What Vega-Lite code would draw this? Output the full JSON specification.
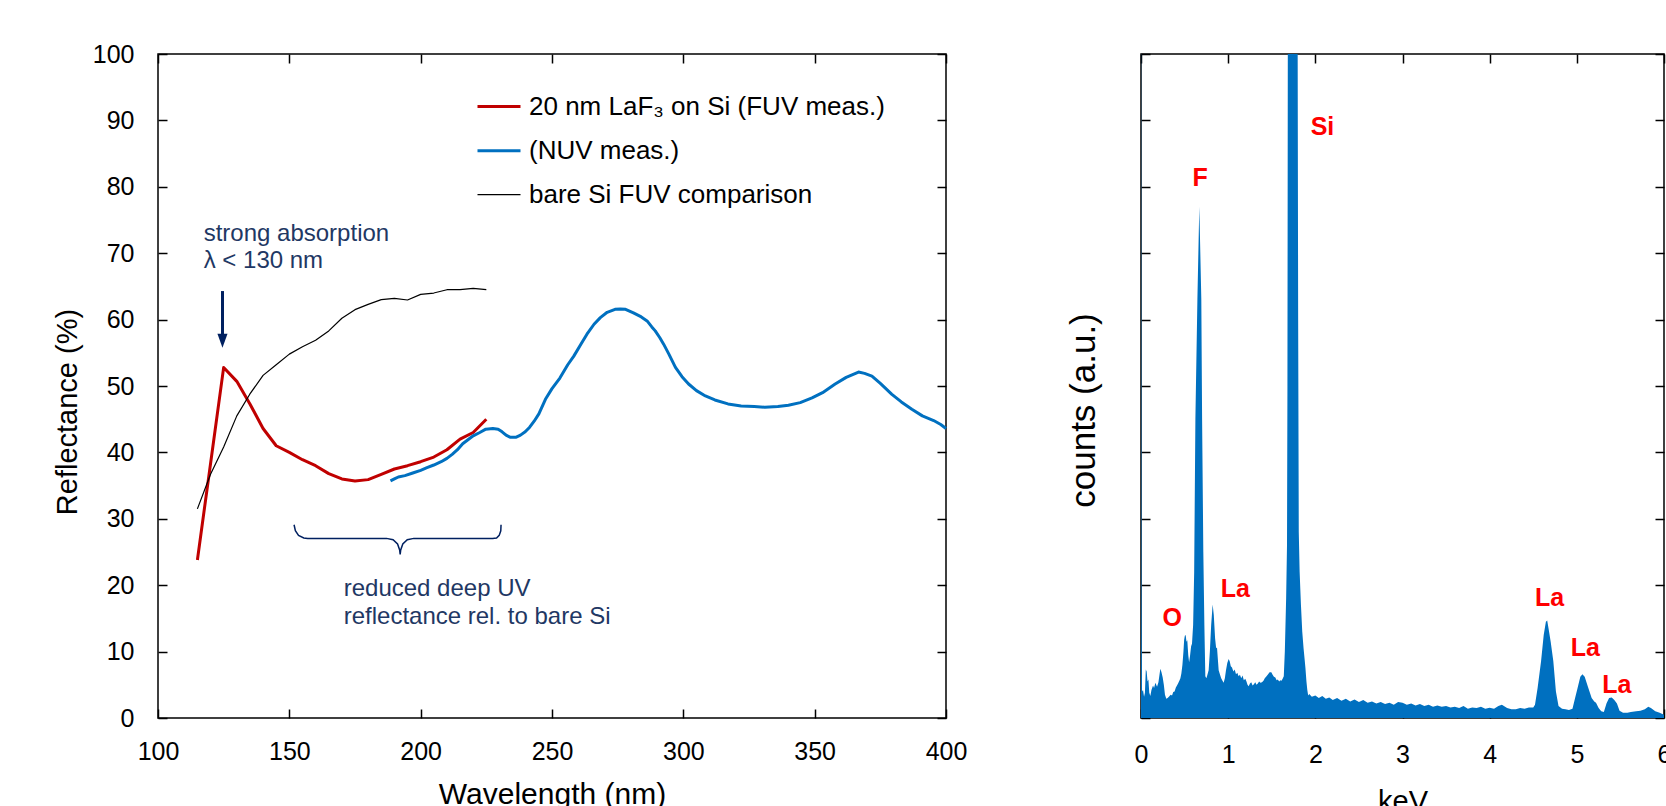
{
  "$schema": "https://vega.github.io/schema/vega-lite/v6.json",
  "background": "white",
  "padding": {"left": 52, "top": 41, "right": 0, "bottom": 0},
  "spacing": 195,
  "bounds": "flush",
  "config": {
    "font": "Liberation Sans",
    "view": {"stroke": "black", "strokeWidth": 1.5},
    "axis": {
      "domain": false, "grid": false, "tickColor": "black", "tickWidth": 1.5, "tickSize": -9,
      "labelFont": "Liberation Sans", "labelFontSize": 25, "labelColor": "black", "labelFlush": false, "labelOverlap": false,
      "titleFont": "Liberation Sans", "titleFontSize": 29, "titleFontWeight": "normal", "titleColor": "black"
    },
    "legend": {
      "orient": "none", "legendX": 318, "legendY": 29.5, "title": null, "symbolType": "stroke", "symbolSize": 1849,
      "labelFont": "Liberation Sans", "labelFontSize": 26, "labelColor": "black", "labelOffset": 7, "rowPadding": 8.3, "padding": 0, "labelLimit": 600
    }
  },
  "datasets": {
    "reflect": [
      {"series": "20 nm LaF₃ on Si (FUV meas.)", "nm": 115, "R": 23.8},
      {"series": "20 nm LaF₃ on Si (FUV meas.)", "nm": 120, "R": 38.3},
      {"series": "20 nm LaF₃ on Si (FUV meas.)", "nm": 125, "R": 52.8},
      {"series": "20 nm LaF₃ on Si (FUV meas.)", "nm": 130, "R": 50.7},
      {"series": "20 nm LaF₃ on Si (FUV meas.)", "nm": 135, "R": 47.3},
      {"series": "20 nm LaF₃ on Si (FUV meas.)", "nm": 140, "R": 43.6},
      {"series": "20 nm LaF₃ on Si (FUV meas.)", "nm": 145, "R": 41.0},
      {"series": "20 nm LaF₃ on Si (FUV meas.)", "nm": 150, "R": 40.0},
      {"series": "20 nm LaF₃ on Si (FUV meas.)", "nm": 155, "R": 38.9},
      {"series": "20 nm LaF₃ on Si (FUV meas.)", "nm": 160, "R": 38.0},
      {"series": "20 nm LaF₃ on Si (FUV meas.)", "nm": 165, "R": 36.8},
      {"series": "20 nm LaF₃ on Si (FUV meas.)", "nm": 170, "R": 36.0},
      {"series": "20 nm LaF₃ on Si (FUV meas.)", "nm": 175, "R": 35.7},
      {"series": "20 nm LaF₃ on Si (FUV meas.)", "nm": 180, "R": 35.9},
      {"series": "20 nm LaF₃ on Si (FUV meas.)", "nm": 185, "R": 36.7},
      {"series": "20 nm LaF₃ on Si (FUV meas.)", "nm": 190, "R": 37.5},
      {"series": "20 nm LaF₃ on Si (FUV meas.)", "nm": 195, "R": 38.0},
      {"series": "20 nm LaF₃ on Si (FUV meas.)", "nm": 200, "R": 38.6},
      {"series": "20 nm LaF₃ on Si (FUV meas.)", "nm": 205, "R": 39.3},
      {"series": "20 nm LaF₃ on Si (FUV meas.)", "nm": 210, "R": 40.4},
      {"series": "20 nm LaF₃ on Si (FUV meas.)", "nm": 215, "R": 42.0},
      {"series": "20 nm LaF₃ on Si (FUV meas.)", "nm": 220, "R": 43.0},
      {"series": "20 nm LaF₃ on Si (FUV meas.)", "nm": 225, "R": 45.0},
      {"series": "(NUV meas.)", "nm": 188.5, "R": 35.7},
      {"series": "(NUV meas.)", "nm": 190, "R": 36.0},
      {"series": "(NUV meas.)", "nm": 191.5, "R": 36.3},
      {"series": "(NUV meas.)", "nm": 194, "R": 36.5},
      {"series": "(NUV meas.)", "nm": 197, "R": 36.9},
      {"series": "(NUV meas.)", "nm": 200, "R": 37.3},
      {"series": "(NUV meas.)", "nm": 202.4, "R": 37.7},
      {"series": "(NUV meas.)", "nm": 205, "R": 38.1},
      {"series": "(NUV meas.)", "nm": 207.8, "R": 38.6},
      {"series": "(NUV meas.)", "nm": 210, "R": 39.1},
      {"series": "(NUV meas.)", "nm": 212, "R": 39.7},
      {"series": "(NUV meas.)", "nm": 214, "R": 40.4},
      {"series": "(NUV meas.)", "nm": 216, "R": 41.3},
      {"series": "(NUV meas.)", "nm": 218, "R": 41.9},
      {"series": "(NUV meas.)", "nm": 220, "R": 42.5},
      {"series": "(NUV meas.)", "nm": 222.5, "R": 43.0},
      {"series": "(NUV meas.)", "nm": 224.8, "R": 43.5},
      {"series": "(NUV meas.)", "nm": 227.5, "R": 43.6},
      {"series": "(NUV meas.)", "nm": 229.5, "R": 43.5},
      {"series": "(NUV meas.)", "nm": 231, "R": 43.1},
      {"series": "(NUV meas.)", "nm": 232.5, "R": 42.6},
      {"series": "(NUV meas.)", "nm": 234, "R": 42.3},
      {"series": "(NUV meas.)", "nm": 236.4, "R": 42.3},
      {"series": "(NUV meas.)", "nm": 238, "R": 42.6},
      {"series": "(NUV meas.)", "nm": 239.8, "R": 43.1},
      {"series": "(NUV meas.)", "nm": 241.5, "R": 43.8},
      {"series": "(NUV meas.)", "nm": 243.2, "R": 44.7},
      {"series": "(NUV meas.)", "nm": 245, "R": 45.8},
      {"series": "(NUV meas.)", "nm": 247.5, "R": 48.0},
      {"series": "(NUV meas.)", "nm": 250, "R": 49.6},
      {"series": "(NUV meas.)", "nm": 253, "R": 51.2},
      {"series": "(NUV meas.)", "nm": 256, "R": 53.2},
      {"series": "(NUV meas.)", "nm": 258.3, "R": 54.5},
      {"series": "(NUV meas.)", "nm": 261, "R": 56.3},
      {"series": "(NUV meas.)", "nm": 263.3, "R": 57.8},
      {"series": "(NUV meas.)", "nm": 266, "R": 59.3},
      {"series": "(NUV meas.)", "nm": 268.4, "R": 60.3},
      {"series": "(NUV meas.)", "nm": 271, "R": 61.1},
      {"series": "(NUV meas.)", "nm": 274, "R": 61.55},
      {"series": "(NUV meas.)", "nm": 276, "R": 61.6},
      {"series": "(NUV meas.)", "nm": 278, "R": 61.55},
      {"series": "(NUV meas.)", "nm": 281, "R": 61.0},
      {"series": "(NUV meas.)", "nm": 284, "R": 60.4},
      {"series": "(NUV meas.)", "nm": 286.2, "R": 59.8},
      {"series": "(NUV meas.)", "nm": 288, "R": 58.9},
      {"series": "(NUV meas.)", "nm": 289.3, "R": 58.3},
      {"series": "(NUV meas.)", "nm": 291, "R": 57.3},
      {"series": "(NUV meas.)", "nm": 292.5, "R": 56.3},
      {"series": "(NUV meas.)", "nm": 294.5, "R": 54.8},
      {"series": "(NUV meas.)", "nm": 297, "R": 52.8},
      {"series": "(NUV meas.)", "nm": 299.5, "R": 51.4},
      {"series": "(NUV meas.)", "nm": 302, "R": 50.3},
      {"series": "(NUV meas.)", "nm": 305, "R": 49.3},
      {"series": "(NUV meas.)", "nm": 308.4, "R": 48.5},
      {"series": "(NUV meas.)", "nm": 312, "R": 47.9},
      {"series": "(NUV meas.)", "nm": 317, "R": 47.3},
      {"series": "(NUV meas.)", "nm": 322, "R": 47.0},
      {"series": "(NUV meas.)", "nm": 327, "R": 46.9},
      {"series": "(NUV meas.)", "nm": 331, "R": 46.8},
      {"series": "(NUV meas.)", "nm": 336, "R": 46.9},
      {"series": "(NUV meas.)", "nm": 340, "R": 47.1},
      {"series": "(NUV meas.)", "nm": 344.5, "R": 47.5},
      {"series": "(NUV meas.)", "nm": 349, "R": 48.2},
      {"series": "(NUV meas.)", "nm": 353, "R": 49.0},
      {"series": "(NUV meas.)", "nm": 357.8, "R": 50.3},
      {"series": "(NUV meas.)", "nm": 362, "R": 51.3},
      {"series": "(NUV meas.)", "nm": 366.7, "R": 52.1},
      {"series": "(NUV meas.)", "nm": 369, "R": 51.9},
      {"series": "(NUV meas.)", "nm": 371.8, "R": 51.5},
      {"series": "(NUV meas.)", "nm": 375, "R": 50.4},
      {"series": "(NUV meas.)", "nm": 379.4, "R": 48.75},
      {"series": "(NUV meas.)", "nm": 383, "R": 47.6},
      {"series": "(NUV meas.)", "nm": 387, "R": 46.5},
      {"series": "(NUV meas.)", "nm": 391, "R": 45.5},
      {"series": "(NUV meas.)", "nm": 395.3, "R": 44.8},
      {"series": "(NUV meas.)", "nm": 398, "R": 44.2},
      {"series": "(NUV meas.)", "nm": 400, "R": 43.6},
      {"series": "bare Si FUV comparison", "nm": 115, "R": 31.5},
      {"series": "bare Si FUV comparison", "nm": 120, "R": 36.7},
      {"series": "bare Si FUV comparison", "nm": 125, "R": 40.8},
      {"series": "bare Si FUV comparison", "nm": 130, "R": 45.5},
      {"series": "bare Si FUV comparison", "nm": 135, "R": 48.8},
      {"series": "bare Si FUV comparison", "nm": 140, "R": 51.6},
      {"series": "bare Si FUV comparison", "nm": 145, "R": 53.2},
      {"series": "bare Si FUV comparison", "nm": 150, "R": 54.8},
      {"series": "bare Si FUV comparison", "nm": 155, "R": 55.9},
      {"series": "bare Si FUV comparison", "nm": 160, "R": 56.9},
      {"series": "bare Si FUV comparison", "nm": 165, "R": 58.3},
      {"series": "bare Si FUV comparison", "nm": 170, "R": 60.2},
      {"series": "bare Si FUV comparison", "nm": 175, "R": 61.5},
      {"series": "bare Si FUV comparison", "nm": 180, "R": 62.3},
      {"series": "bare Si FUV comparison", "nm": 185, "R": 63.0},
      {"series": "bare Si FUV comparison", "nm": 190, "R": 63.2},
      {"series": "bare Si FUV comparison", "nm": 195, "R": 62.95},
      {"series": "bare Si FUV comparison", "nm": 200, "R": 63.8},
      {"series": "bare Si FUV comparison", "nm": 205, "R": 64.0},
      {"series": "bare Si FUV comparison", "nm": 210, "R": 64.5},
      {"series": "bare Si FUV comparison", "nm": 215, "R": 64.5},
      {"series": "bare Si FUV comparison", "nm": 220, "R": 64.7},
      {"series": "bare Si FUV comparison", "nm": 225, "R": 64.5}
    ],
    "brace": [
      {"nm": 151.8, "R": 29.1}, {"nm": 152.3, "R": 28.2}, {"nm": 153.5, "R": 27.5}, {"nm": 155.5, "R": 27.12},
      {"nm": 157, "R": 27.05}, {"nm": 187, "R": 27.05}, {"nm": 189.5, "R": 26.85}, {"nm": 191.2, "R": 26.2},
      {"nm": 192.0, "R": 25.3}, {"nm": 192.2, "R": 24.65}, {"nm": 192.4, "R": 25.3}, {"nm": 193.2, "R": 26.2},
      {"nm": 194.9, "R": 26.85}, {"nm": 197.4, "R": 27.05}, {"nm": 227.4, "R": 27.05}, {"nm": 228.9, "R": 27.12},
      {"nm": 229.9, "R": 27.5}, {"nm": 230.5, "R": 28.2}, {"nm": 230.6, "R": 29.1}
    ],
    "arrow": [{"nm": 124.55, "R": 64.3, "R2": 57.5}],
    "arrowhead": [{"nm": 124.55, "R": 56.8}],
    "notes": [
      {"nm": 117.4, "R": 71.8, "text": "strong absorption"},
      {"nm": 117.4, "R": 67.8, "text": "λ < 130 nm"},
      {"nm": 170.7, "R": 18.4, "text": "reduced deep UV"},
      {"nm": 170.7, "R": 14.2, "text": "reflectance rel. to bare Si"}
    ],
    "edx": [
      {"keV": 0.0, "counts": 130}, {"keV": 0.006, "counts": 20}, {"keV": 0.012, "counts": 4.0}, {"keV": 0.023, "counts": 4.2},
      {"keV": 0.035, "counts": 3.2}, {"keV": 0.045, "counts": 3.8}, {"keV": 0.055, "counts": 7.3}, {"keV": 0.065, "counts": 7.0},
      {"keV": 0.075, "counts": 5.5}, {"keV": 0.085, "counts": 5.8}, {"keV": 0.095, "counts": 3.8}, {"keV": 0.107, "counts": 3.3},
      {"keV": 0.12, "counts": 4.2}, {"keV": 0.138, "counts": 4.9}, {"keV": 0.15, "counts": 4.5}, {"keV": 0.165, "counts": 5.3},
      {"keV": 0.184, "counts": 4.7}, {"keV": 0.2, "counts": 5.4}, {"keV": 0.212, "counts": 6.5}, {"keV": 0.222, "counts": 7.4},
      {"keV": 0.235, "counts": 6.9}, {"keV": 0.249, "counts": 6.1}, {"keV": 0.262, "counts": 5.0}, {"keV": 0.275, "counts": 3.5},
      {"keV": 0.29, "counts": 2.9}, {"keV": 0.305, "counts": 3.0}, {"keV": 0.32, "counts": 3.2}, {"keV": 0.34, "counts": 3.5},
      {"keV": 0.356, "counts": 3.4}, {"keV": 0.37, "counts": 3.9}, {"keV": 0.385, "counts": 4.0}, {"keV": 0.4, "counts": 4.6},
      {"keV": 0.413, "counts": 4.9}, {"keV": 0.425, "counts": 5.2}, {"keV": 0.44, "counts": 5.6}, {"keV": 0.452, "counts": 6.0},
      {"keV": 0.463, "counts": 6.7}, {"keV": 0.475, "counts": 8.0}, {"keV": 0.487, "counts": 10.0}, {"keV": 0.495, "counts": 11.8},
      {"keV": 0.503, "counts": 12.4}, {"keV": 0.512, "counts": 12.5}, {"keV": 0.522, "counts": 11.5}, {"keV": 0.531, "counts": 11.7},
      {"keV": 0.542, "counts": 9.5}, {"keV": 0.552, "counts": 8.4}, {"keV": 0.562, "counts": 9.3}, {"keV": 0.575, "counts": 10.8},
      {"keV": 0.585, "counts": 11.2}, {"keV": 0.598, "counts": 14}, {"keV": 0.61, "counts": 22}, {"keV": 0.624, "counts": 45},
      {"keV": 0.647, "counts": 63}, {"keV": 0.669, "counts": 77}, {"keV": 0.692, "counts": 63}, {"keV": 0.701, "counts": 45},
      {"keV": 0.715, "counts": 25}, {"keV": 0.727, "counts": 14}, {"keV": 0.738, "counts": 6.3}, {"keV": 0.75, "counts": 6.0},
      {"keV": 0.762, "counts": 6.5}, {"keV": 0.776, "counts": 7.2}, {"keV": 0.79, "counts": 10}, {"keV": 0.805, "counts": 14},
      {"keV": 0.822, "counts": 17.1}, {"keV": 0.835, "counts": 15.5}, {"keV": 0.85, "counts": 12}, {"keV": 0.862, "counts": 10.5},
      {"keV": 0.872, "counts": 10.6}, {"keV": 0.882, "counts": 8.8}, {"keV": 0.891, "counts": 7.2}, {"keV": 0.905, "counts": 6.6},
      {"keV": 0.92, "counts": 6.0}, {"keV": 0.935, "counts": 5.6}, {"keV": 0.948, "counts": 5.3}, {"keV": 0.962, "counts": 6.0},
      {"keV": 0.975, "counts": 7.2}, {"keV": 0.99, "counts": 8.3}, {"keV": 1.006, "counts": 8.9}, {"keV": 1.018, "counts": 8.5},
      {"keV": 1.03, "counts": 7.8}, {"keV": 1.044, "counts": 7.6}, {"keV": 1.06, "counts": 7.0}, {"keV": 1.075, "counts": 7.3},
      {"keV": 1.09, "counts": 6.6}, {"keV": 1.105, "counts": 6.8}, {"keV": 1.12, "counts": 6.3}, {"keV": 1.135, "counts": 6.5},
      {"keV": 1.15, "counts": 6.0}, {"keV": 1.165, "counts": 6.4}, {"keV": 1.18, "counts": 5.7}, {"keV": 1.196, "counts": 5.9},
      {"keV": 1.21, "counts": 5.5}, {"keV": 1.222, "counts": 5.0}, {"keV": 1.235, "counts": 4.8}, {"keV": 1.25, "counts": 5.2},
      {"keV": 1.265, "counts": 5.4}, {"keV": 1.28, "counts": 4.9}, {"keV": 1.295, "counts": 5.1}, {"keV": 1.311, "counts": 5.4},
      {"keV": 1.325, "counts": 5.0}, {"keV": 1.34, "counts": 5.2}, {"keV": 1.355, "counts": 5.5}, {"keV": 1.37, "counts": 5.3},
      {"keV": 1.388, "counts": 5.4}, {"keV": 1.405, "counts": 5.6}, {"keV": 1.42, "counts": 6.0}, {"keV": 1.44, "counts": 6.3},
      {"keV": 1.458, "counts": 6.6}, {"keV": 1.475, "counts": 6.9}, {"keV": 1.495, "counts": 6.9}, {"keV": 1.51, "counts": 6.5},
      {"keV": 1.525, "counts": 6.2}, {"keV": 1.541, "counts": 6.1}, {"keV": 1.556, "counts": 5.7}, {"keV": 1.57, "counts": 5.8},
      {"keV": 1.585, "counts": 5.5}, {"keV": 1.598, "counts": 5.7}, {"keV": 1.612, "counts": 5.6}, {"keV": 1.625, "counts": 5.9},
      {"keV": 1.638, "counts": 6.3}, {"keV": 1.65, "counts": 10}, {"keV": 1.665, "counts": 18}, {"keV": 1.675, "counts": 26},
      {"keV": 1.68, "counts": 50}, {"keV": 1.685, "counts": 110}, {"keV": 1.7, "counts": 200}, {"keV": 1.74, "counts": 260},
      {"keV": 1.78, "counts": 200}, {"keV": 1.796, "counts": 110}, {"keV": 1.803, "counts": 60}, {"keV": 1.81, "counts": 28},
      {"keV": 1.82, "counts": 22}, {"keV": 1.835, "counts": 17}, {"keV": 1.85, "counts": 13}, {"keV": 1.865, "counts": 10.5},
      {"keV": 1.876, "counts": 9}, {"keV": 1.886, "counts": 7.6}, {"keV": 1.898, "counts": 5.5}, {"keV": 1.908, "counts": 4.2},
      {"keV": 1.918, "counts": 3.4}, {"keV": 1.93, "counts": 3.6}, {"keV": 1.96, "counts": 3.2}, {"keV": 2.0, "counts": 3.4},
      {"keV": 2.04, "counts": 3.0}, {"keV": 2.08, "counts": 3.3}, {"keV": 2.12, "counts": 2.9}, {"keV": 2.16, "counts": 3.1},
      {"keV": 2.2, "counts": 2.7}, {"keV": 2.25, "counts": 3.0}, {"keV": 2.3, "counts": 2.6}, {"keV": 2.35, "counts": 2.9},
      {"keV": 2.4, "counts": 2.5}, {"keV": 2.45, "counts": 2.8}, {"keV": 2.5, "counts": 2.4}, {"keV": 2.55, "counts": 2.7},
      {"keV": 2.6, "counts": 2.3}, {"keV": 2.65, "counts": 2.5}, {"keV": 2.7, "counts": 2.2}, {"keV": 2.75, "counts": 2.4},
      {"keV": 2.8, "counts": 2.1}, {"keV": 2.85, "counts": 2.3}, {"keV": 2.9, "counts": 2.0}, {"keV": 2.95, "counts": 2.4},
      {"keV": 3.0, "counts": 2.3}, {"keV": 3.05, "counts": 2.0}, {"keV": 3.1, "counts": 2.2}, {"keV": 3.15, "counts": 1.9},
      {"keV": 3.2, "counts": 2.1}, {"keV": 3.25, "counts": 1.8}, {"keV": 3.3, "counts": 2.0}, {"keV": 3.35, "counts": 1.7},
      {"keV": 3.4, "counts": 1.9}, {"keV": 3.45, "counts": 1.7}, {"keV": 3.5, "counts": 1.8}, {"keV": 3.55, "counts": 1.6},
      {"keV": 3.6, "counts": 1.7}, {"keV": 3.65, "counts": 1.5}, {"keV": 3.7, "counts": 1.8}, {"keV": 3.75, "counts": 1.4},
      {"keV": 3.8, "counts": 1.6}, {"keV": 3.85, "counts": 1.5}, {"keV": 3.9, "counts": 1.7}, {"keV": 3.95, "counts": 1.4},
      {"keV": 4.0, "counts": 1.55}, {"keV": 4.05, "counts": 1.4}, {"keV": 4.1, "counts": 1.8}, {"keV": 4.14, "counts": 2.0},
      {"keV": 4.2, "counts": 1.5}, {"keV": 4.25, "counts": 1.3}, {"keV": 4.3, "counts": 1.3}, {"keV": 4.35, "counts": 1.5},
      {"keV": 4.4, "counts": 1.4}, {"keV": 4.45, "counts": 1.6}, {"keV": 4.5, "counts": 1.6}, {"keV": 4.52, "counts": 2.0},
      {"keV": 4.55, "counts": 4.5}, {"keV": 4.59, "counts": 8.6}, {"keV": 4.62, "counts": 12.5}, {"keV": 4.645, "counts": 14.5},
      {"keV": 4.66, "counts": 14.7}, {"keV": 4.675, "counts": 13.5}, {"keV": 4.7, "counts": 11.5}, {"keV": 4.73, "counts": 8.6},
      {"keV": 4.76, "counts": 4.0}, {"keV": 4.79, "counts": 1.8}, {"keV": 4.83, "counts": 1.4}, {"keV": 4.87, "counts": 1.3},
      {"keV": 4.91, "counts": 1.2}, {"keV": 4.95, "counts": 1.4}, {"keV": 4.98, "counts": 3.0}, {"keV": 5.01, "counts": 4.6},
      {"keV": 5.04, "counts": 6.2}, {"keV": 5.064, "counts": 6.6}, {"keV": 5.09, "counts": 6.2}, {"keV": 5.13, "counts": 4.6},
      {"keV": 5.17, "counts": 3.0}, {"keV": 5.2, "counts": 2.5}, {"keV": 5.22, "counts": 2.3}, {"keV": 5.25, "counts": 1.5},
      {"keV": 5.28, "counts": 1.0}, {"keV": 5.31, "counts": 0.9}, {"keV": 5.34, "counts": 2.2}, {"keV": 5.37, "counts": 3.0},
      {"keV": 5.4, "counts": 3.1}, {"keV": 5.43, "counts": 2.7}, {"keV": 5.46, "counts": 2.2}, {"keV": 5.49, "counts": 1.1},
      {"keV": 5.53, "counts": 0.8}, {"keV": 5.58, "counts": 0.8}, {"keV": 5.62, "counts": 0.9}, {"keV": 5.68, "counts": 1.0},
      {"keV": 5.73, "counts": 1.1}, {"keV": 5.78, "counts": 1.3}, {"keV": 5.82, "counts": 1.7}, {"keV": 5.85, "counts": 1.5},
      {"keV": 5.9, "counts": 1.0}, {"keV": 5.95, "counts": 0.8}, {"keV": 6.0, "counts": 0.5}
    ],
    "peaks": [
      {"keV": 2.082, "counts": 89.0, "label": "Si"},
      {"keV": 0.679, "counts": 81.4, "label": "F"},
      {"keV": 0.359, "counts": 15.0, "label": "O"},
      {"keV": 1.082, "counts": 19.5, "label": "La"},
      {"keV": 4.688, "counts": 18.0, "label": "La"},
      {"keV": 5.098, "counts": 10.5, "label": "La"},
      {"keV": 5.458, "counts": 4.9, "label": "La"}
    ]
  },
  "hconcat": [
    {
      "width": 788,
      "height": 664,
      "layer": [
        {
          "data": {"name": "reflect"},
          "mark": {"type": "line", "strokeJoin": "round"},
          "encoding": {
            "x": {"field": "nm", "type": "quantitative", "scale": {"domain": [100, 400], "nice": false},
                  "axis": {"orient": "bottom", "values": [100, 150, 200, 250, 300, 350, 400], "labelPadding": 30, "title": "Wavelength (nm)", "titleFontSize": 30, "titlePadding": 15}},
            "y": {"field": "R", "type": "quantitative", "scale": {"domain": [0, 100], "nice": false},
                  "axis": {"orient": "left", "values": [0, 10, 20, 30, 40, 50, 60, 70, 80, 90, 100], "labelPadding": 33, "title": "Reflectance (%)", "titlePadding": 10, "titleY": 357.5}},
            "color": {"field": "series", "type": "nominal",
                      "scale": {"type": "ordinal", "domain": ["20 nm LaF₃ on Si (FUV meas.)", "(NUV meas.)", "bare Si FUV comparison"], "range": ["#C00000", "#0070C0", "#000000"]},
                      "legend": {"title": null}},
            "strokeWidth": {"field": "series", "type": "nominal",
                      "scale": {"type": "ordinal", "domain": ["20 nm LaF₃ on Si (FUV meas.)", "(NUV meas.)", "bare Si FUV comparison"], "range": [3, 3, 1.2]},
                      "legend": {"title": null}}
          }
        },
        {
          "data": {"name": "brace"},
          "mark": {"type": "line", "color": "#002060", "strokeWidth": 1.5},
          "encoding": {
            "x": {"field": "nm", "type": "quantitative", "axis": {"orient": "top", "values": [100, 150, 200, 250, 300, 350, 400], "labels": false, "title": null}},
            "y": {"field": "R", "type": "quantitative", "axis": {"orient": "right", "values": [0, 10, 20, 30, 40, 50, 60, 70, 80, 90, 100], "labels": false, "title": null}}
          }
        },
        {
          "data": {"name": "arrow"},
          "mark": {"type": "rule", "color": "#002060", "strokeWidth": 3},
          "encoding": {
            "x": {"field": "nm", "type": "quantitative", "axis": null},
            "y": {"field": "R", "type": "quantitative", "axis": null},
            "y2": {"field": "R2"}
          }
        },
        {
          "data": {"name": "arrowhead"},
          "mark": {"type": "point", "shape": "M-0.72,-1L0.72,-1L0,1Z", "filled": true, "color": "#002060", "opacity": 1, "size": 196, "strokeWidth": 0},
          "encoding": {
            "x": {"field": "nm", "type": "quantitative", "axis": null},
            "y": {"field": "R", "type": "quantitative", "axis": null}
          }
        },
        {
          "data": {"name": "notes"},
          "mark": {"type": "text", "align": "left", "baseline": "alphabetic", "fontSize": 24, "color": "#1F3864", "font": "Liberation Sans"},
          "encoding": {
            "x": {"field": "nm", "type": "quantitative", "axis": null},
            "y": {"field": "R", "type": "quantitative", "axis": null},
            "text": {"field": "text"}
          }
        }
      ],
      "resolve": {"axis": {"x": "independent", "y": "independent"}}
    },
    {
      "width": 523,
      "height": 664,
      "layer": [
        {
          "data": {"name": "edx"},
          "mark": {"type": "area", "color": "#0070C0", "clip": true, "opacity": 1},
          "encoding": {
            "x": {"field": "keV", "type": "quantitative", "scale": {"domain": [0, 6], "nice": false},
                  "axis": {"orient": "bottom", "values": [0, 1, 2, 3, 4, 5, 6], "labelPadding": 33, "title": "keV", "titlePadding": 20}},
            "y": {"field": "counts", "type": "quantitative", "stack": null, "scale": {"domain": [0, 100], "nice": false},
                  "axis": {"orient": "left", "values": [0, 10, 20, 30, 40, 50, 60, 70, 80, 90, 100], "labels": false, "title": "counts (a.u.)", "titleFontSize": 35, "titlePadding": 39, "titleY": 356}}
          }
        },
        {
          "data": {"name": "peaks"},
          "mark": {"type": "text", "color": "#FF0000", "fontWeight": "bold", "fontSize": 25, "align": "center", "baseline": "middle", "font": "Liberation Sans"},
          "encoding": {
            "x": {"field": "keV", "type": "quantitative", "axis": {"orient": "top", "values": [0, 1, 2, 3, 4, 5, 6], "labels": false, "title": null}},
            "y": {"field": "counts", "type": "quantitative", "axis": {"orient": "right", "values": [0, 10, 20, 30, 40, 50, 60, 70, 80, 90, 100], "labels": false, "title": null}},
            "text": {"field": "label"}
          }
        }
      ],
      "resolve": {"axis": {"x": "independent", "y": "independent"}}
    }
  ]
}
